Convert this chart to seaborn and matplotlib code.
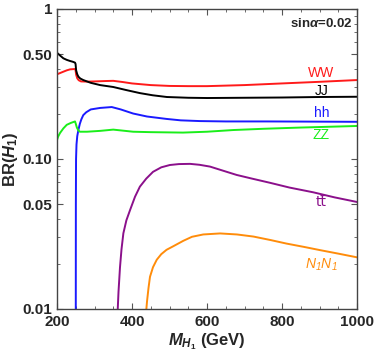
import pandas as pd
import seaborn as sns
import matplotlib
matplotlib.use("Agg")
import matplotlib.pyplot as plt
from matplotlib.ticker import FixedLocator, FixedFormatter, MultipleLocator

# values (mass in GeV, branching ratio)
ww_m = [200, 208, 217, 226, 235, 248, 249.5, 251, 254, 258, 264, 280, 300, 330, 350, 375, 400,
        450, 500, 550, 600, 700, 800, 900, 1000]
ww_br = [0.367, 0.374, 0.382, 0.39, 0.396, 0.398, 0.39, 0.365, 0.345, 0.335, 0.329, 0.328, 0.329,
         0.331, 0.332, 0.326, 0.319, 0.311, 0.307, 0.306, 0.306, 0.311, 0.319, 0.327, 0.336]

jj_m = [200, 208, 217, 226, 235, 242, 248, 249.5, 251, 254, 257, 262, 270, 290, 315, 350, 385,
        421, 455, 493, 550, 600, 700, 800, 900, 1000]
jj_br = [0.511, 0.49, 0.469, 0.458, 0.45, 0.445, 0.439, 0.43, 0.39, 0.367, 0.354, 0.344, 0.336,
         0.322, 0.311, 0.302, 0.288, 0.275, 0.266, 0.259, 0.256, 0.255, 0.256, 0.257, 0.259, 0.26]

hh_m = [250.0, 250.3, 250.8, 252, 254, 257, 261, 265, 270, 278, 290, 315, 346, 370, 403, 440,
        492, 530, 581, 650, 759, 1000]
hh_br = [0.005, 0.05, 0.1, 0.125, 0.142, 0.156, 0.172, 0.184, 0.196, 0.205, 0.214, 0.219, 0.222,
         0.214, 0.201, 0.192, 0.185, 0.181, 0.179, 0.178, 0.178, 0.177]

zz_m = [200, 203, 208, 217, 226, 237, 248, 250, 253, 257, 261, 280, 315, 350, 403, 450, 536,
        600, 670, 750, 848, 1000]
zz_br = [0.134, 0.141, 0.149, 0.16, 0.169, 0.174, 0.178, 0.172, 0.162, 0.155, 0.152, 0.152,
         0.154, 0.157, 0.152, 0.151, 0.15, 0.152, 0.156, 0.159, 0.162, 0.166]

tt_m = [361, 362, 364, 368, 372, 377, 385, 395, 408, 421, 438, 456, 478, 501, 525, 555, 580,
        608, 640, 679, 720, 768, 820, 883, 940, 1000]
tt_br = [0.008, 0.01, 0.013, 0.019, 0.025, 0.032, 0.039, 0.0458, 0.056, 0.0654, 0.074, 0.0821,
         0.088, 0.0912, 0.0925, 0.0928, 0.0915, 0.089, 0.084, 0.0783, 0.074, 0.0694, 0.0645,
         0.06, 0.0555, 0.0517]

nn_m = [436.5, 438, 440, 444, 448, 456, 466, 478, 492, 510, 537, 560, 590, 635, 680, 724, 770,
        812, 860, 901, 950, 1000]
nn_br = [0.008, 0.0098, 0.0112, 0.0138, 0.0164, 0.019, 0.0213, 0.0232, 0.0248, 0.0262, 0.0285,
         0.0303, 0.0314, 0.0319, 0.0314, 0.0304, 0.0288, 0.0273, 0.0259, 0.0247, 0.0234, 0.0221]

series = [
    (ww_m, ww_br, "#ff1a1a"),
    (jj_m, jj_br, "#000000"),
    (hh_m, hh_br, "#1a1aff"),
    (zz_m, zz_br, "#1aee1a"),
    (tt_m, tt_br, "#8b108b"),
    (nn_m, nn_br, "#ff8c0a"),
]

sns.set_style("ticks")
plt.rcParams["font.family"] = ["Liberation Sans", "DejaVu Sans"]
plt.rcParams["mathtext.fontset"] = "custom"
plt.rcParams["mathtext.rm"] = "Liberation Sans:bold"
plt.rcParams["mathtext.it"] = "Liberation Sans:italic:bold"
plt.rcParams["mathtext.sf"] = "Liberation Sans:italic"

fig = plt.figure(figsize=(3.74, 3.57), dpi=100)
ax = fig.add_axes([57 / 374, 48 / 357, 300 / 374, 300 / 357])

for m, br, col in series:
    df = pd.DataFrame({"m": m, "br": br})
    sns.lineplot(data=df, x="m", y="br", ax=ax, color=col, linewidth=1.4,
                 sort=False, estimator=None)

ax.set_yscale("log")
ax.set_xlim(200, 1000)
ax.set_ylim(0.01, 1)

ax.yaxis.set_major_locator(FixedLocator([0.01, 0.05, 0.1, 0.5, 1]))
ax.yaxis.set_major_formatter(FixedFormatter(["0.01", "0.05", "0.10", "0.50", "1"]))
minor = [k * 10.0 ** e for e in (-2, -1) for k in range(1, 10)]
ax.yaxis.set_minor_locator(FixedLocator(minor))
ax.xaxis.set_major_locator(MultipleLocator(200))
ax.xaxis.set_minor_locator(MultipleLocator(50))

ax.tick_params(which="both", direction="in", top=True, right=True, color="#555555")
ax.tick_params(which="major", length=4, width=0.8, labelsize=11)
ax.tick_params(which="minor", length=2, width=0.6)
ax.tick_params(axis="x", pad=4)
for lab in ax.get_xticklabels() + ax.get_yticklabels():
    lab.set_fontweight("bold")
for sp in ax.spines.values():
    sp.set_color("#444444")
    sp.set_linewidth(1.0)

ax.set_xlabel(r"$M_{H_1}$ (GeV)", fontsize=12, fontweight="bold", labelpad=2)
ax.set_ylabel(r"BR($H_1$)", fontsize=12, fontweight="bold", labelpad=2)

ax.text(905, 0.795, r"sin$\alpha$=0.02", fontsize=9.5, fontweight="bold", ha="center", va="center")
ax.text(905, 0.375, "WW", color="#ff1a1a", fontsize=10, ha="center", va="center")
ax.text(905, 0.283, "JJ", color="#000000", fontsize=10, ha="center", va="center")
ax.text(905, 0.204, "hh", color="#1a1aff", fontsize=10, ha="center", va="center")
ax.text(905, 0.144, "ZZ", color="#1aee1a", fontsize=10, ha="center", va="center")
ax.text(905, 0.0515, "tt\u0304", color="#8b108b", fontsize=10, ha="center", va="center",
        family=["DejaVu Sans"])
ax.text(905, 0.0198, r"$\mathsf{N_1N_1}$", color="#ff8c0a", fontsize=10, ha="center", va="center")

fig.savefig("out.png", dpi=100)
